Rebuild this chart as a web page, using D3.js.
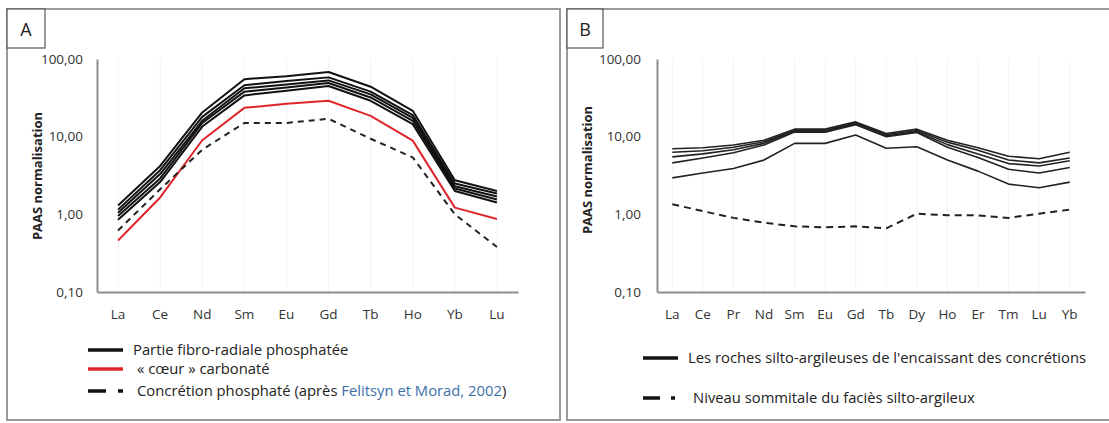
<!DOCTYPE html>
<html><head><meta charset="utf-8">
<script src="https://cdn.jsdelivr.net/npm/d3@7/dist/d3.min.js"></script>
<style>
body{margin:0;background:#fff;}
svg{display:block;font-family:"Open Sans",sans-serif;}
</style></head>
<body><svg id="c" width="1109" height="423"></svg>
<script>
// ---------- DATA ----------
const yTicks = [0.1, 1, 10, 100];
const yTickLabels = ["0,10", "1,00", "10,00", "100,00"];
const yTitle = "PAAS normalisation";

// Panel A
const catsA = ["La","Ce","Nd","Sm","Eu","Gd","Tb","Ho","Yb","Lu"];
const fibroA1 = [1.30, 4.2, 20.5, 55, 60, 68, 44, 21.5, 2.75, 2.00];
const fibroA2 = [1.15, 3.7, 18.0, 46, 52, 58, 38, 19.0, 2.50, 1.85];
const fibroA3 = [1.05, 3.3, 16.0, 42, 47, 53, 35, 17.5, 2.30, 1.70];
const fibroA4 = [0.95, 2.9, 15.0, 38, 43, 49, 32, 16.0, 2.15, 1.55];
const fibroA5 = [0.85, 2.6, 13.5, 34, 39, 45, 29, 14.5, 2.00, 1.42];
const coeurA  = [0.46, 1.65, 9.0, 23.5, 26.5, 29, 18.5, 8.9, 1.22, 0.87];
const concretionA = [0.62, 2.1, 6.8, 15, 15, 17, 9.4, 5.4, 1.0, 0.38];
const legendA = ["Partie fibro-radiale phosphatée", "« cœur » carbonaté", "Concrétion phosphaté (après ", "Felitsyn et Morad, 2002", ")"];

// Panel B
const catsB = ["La","Ce","Pr","Nd","Sm","Eu","Gd","Tb","Dy","Ho","Er","Tm","Lu","Yb"];
const rocheB1 = [7.0, 7.2, 7.8, 9.0, 12.5, 12.5, 15.5, 11.0, 12.5, 9.0, 7.2, 5.6, 5.2, 6.3];
const rocheB2 = [6.3, 6.6, 7.3, 8.6, 12.0, 12.0, 15.0, 10.6, 12.0, 8.5, 6.7, 5.0, 4.6, 5.3];
const rocheB3 = [5.5, 6.0, 6.8, 8.2, 11.8, 11.7, 14.6, 10.3, 11.6, 7.9, 6.0, 4.5, 4.2, 4.9];
const rocheB4 = [4.6, 5.3, 6.2, 7.8, 11.5, 11.4, 14.2, 10.0, 11.3, 7.3, 5.4, 3.8, 3.4, 4.0];
const rocheB5 = [2.95, 3.4, 3.9, 5.0, 8.2, 8.2, 10.5, 7.1, 7.4, 5.0, 3.6, 2.45, 2.2, 2.6];
const sommitalB = [1.35, 1.1, 0.9, 0.78, 0.70, 0.68, 0.70, 0.66, 1.02, 0.97, 0.97, 0.90, 1.02, 1.15];
const legendB = ["Les roches silto-argileuses de l'encaissant des concrétions", "Niveau sommitale du faciès silto-argileux"];

// ---------- DRAW ----------
const svg = d3.select("#c");
const FS_TICK = 13.5, FS_LEG = 14.8;

function panel(o){
  const g = svg.append("g");
  g.append("rect").attr("x", o.fx).attr("y", 9).attr("width", o.fw).attr("height", 411)
    .attr("fill","none").attr("stroke","#9a9a9a").attr("stroke-width",2);
  g.append("rect").attr("x", o.fx).attr("y", 9).attr("width", o.bw).attr("height", 39)
    .attr("fill","#fff").attr("stroke","#555").attr("stroke-width",1.2);
  g.append("text").attr("x", o.fx + o.bw/2).attr("y", 36).attr("text-anchor","middle")
    .attr("font-size",18).attr("fill","#222").text(o.letter);

  const x = d3.scaleBand().domain(o.cats).range([o.x0, o.x1]);
  const y = d3.scaleLog().domain([0.1, 100]).range([292, 59]);
  const cx = c => x(c) + x.bandwidth()/2;

  g.append("g").selectAll("line").data(o.cats).join("line")
    .attr("x1", d=>cx(d)).attr("x2", d=>cx(d)).attr("y1", 59).attr("y2", 292)
    .attr("stroke","#f3f3f3").attr("stroke-width",1);

  const ya = d3.axisLeft(y).tickValues(yTicks).tickSize(0).tickPadding(o.tickPad)
    .tickFormat((d,i)=>yTickLabels[i]);
  const yg = g.append("g").attr("transform",`translate(${o.x0},0)`).call(ya);
  yg.select(".domain").attr("stroke","#8c8c8c").attr("stroke-width",2);
  yg.selectAll("text").attr("font-size",FS_TICK).attr("fill","#333").attr("font-family","Open Sans");

  const xa = d3.axisBottom(x).tickSize(0).tickPadding(17);
  const xg = g.append("g").attr("transform","translate(0,292)").call(xa);
  xg.select(".domain").attr("stroke","#8c8c8c").attr("stroke-width",2);
  xg.selectAll("text").attr("font-size",FS_TICK).attr("fill","#333").attr("font-family","Open Sans");

  g.append("text").attr("transform",`translate(${o.tx},${o.ty}) rotate(-90)`)
    .attr("text-anchor","middle").attr("font-size",13).attr("font-weight","bold")
    .attr("fill","#222").text(yTitle);

  const line = d3.line().x((d,i)=>cx(o.cats[i])).y(d=>y(d));
  o.series.forEach(s=>{
    g.append("path").datum(s.values).attr("d", line).attr("fill","none")
      .attr("stroke", s.color).attr("stroke-width", s.width)
      .attr("stroke-dasharray", s.dash || null).attr("stroke-linejoin","round");
  });
  return g;
}

panel({
  fx:7, fw:553, bw:38, letter:"A", cats:catsA, x0:97, x1:518, tickPad:14,
  tx:42, ty:176,
  series:[
    ...[fibroA1,fibroA2,fibroA3,fibroA4,fibroA5].map(v=>({values:v,color:"#111",width:2})),
    {values:coeurA, color:"#e0262b", width:2},
    {values:concretionA, color:"#222", width:2, dash:"6,5"}
  ]
});

panel({
  fx:567, fw:560, bw:36, letter:"B", cats:catsB, x0:657, x1:1085, tickPad:16,
  tx:592, ty:170,
  series:[
    ...[rocheB1,rocheB2,rocheB3,rocheB4,rocheB5].map(v=>({values:v,color:"#222",width:1.6})),
    {values:sommitalB, color:"#222", width:2, dash:"7,5"}
  ]
});

// legend A
const lgA = svg.append("g");
lgA.append("line").attr("x1",88).attr("x2",123).attr("y1",350).attr("y2",350).attr("stroke","#111").attr("stroke-width",3.5);
lgA.append("line").attr("x1",88).attr("x2",123).attr("y1",369).attr("y2",369).attr("stroke","#e0262b").attr("stroke-width",3.5);
lgA.append("line").attr("x1",88).attr("x2",106).attr("y1",391).attr("y2",391).attr("stroke","#111").attr("stroke-width",3.5);
lgA.append("line").attr("x1",118).attr("x2",123).attr("y1",391).attr("y2",391).attr("stroke","#111").attr("stroke-width",3.5);
lgA.append("text").attr("x",133).attr("y",355).attr("font-size",FS_LEG).attr("fill","#222").text(legendA[0]);
lgA.append("text").attr("x",137).attr("y",374).attr("font-size",FS_LEG).attr("fill","#222").text(legendA[1]);
const t3 = lgA.append("text").attr("x",137).attr("y",396).attr("font-size",FS_LEG).attr("fill","#222");
t3.append("tspan").text(legendA[2]);
t3.append("tspan").attr("fill","#3b6fa8").text(legendA[3]);
t3.append("tspan").text(legendA[4]);

// legend B
const lgB = svg.append("g");
lgB.append("line").attr("x1",643).attr("x2",678).attr("y1",358).attr("y2",358).attr("stroke","#111").attr("stroke-width",3.5);
lgB.append("line").attr("x1",643).attr("x2",660).attr("y1",398).attr("y2",398).attr("stroke","#111").attr("stroke-width",3.5);
lgB.append("line").attr("x1",671).attr("x2",675).attr("y1",398).attr("y2",398).attr("stroke","#111").attr("stroke-width",3.5);
lgB.append("text").attr("x",688).attr("y",363).attr("font-size",FS_LEG).attr("fill","#222").text(legendB[0]);
lgB.append("text").attr("x",693).attr("y",403).attr("font-size",FS_LEG).attr("fill","#222").text(legendB[1]);
</script></body></html>
